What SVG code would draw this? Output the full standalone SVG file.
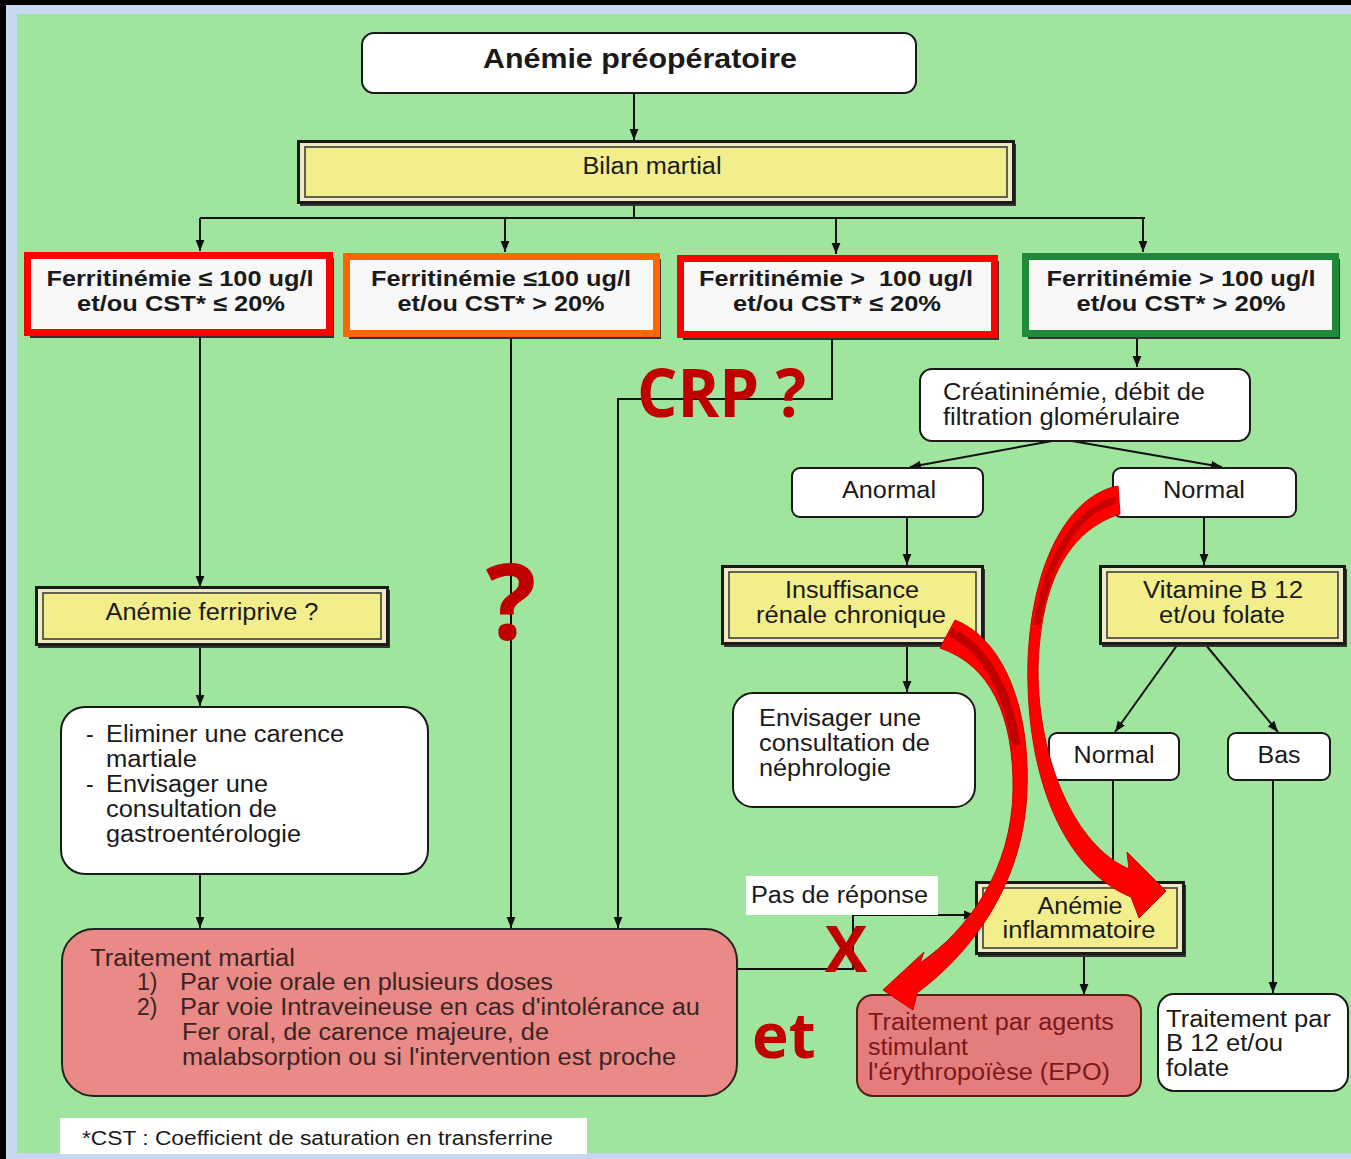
<svg xmlns="http://www.w3.org/2000/svg" width="1351" height="1159" viewBox="0 0 1351 1159">
<defs>
<style>
.t{font-family:"Liberation Sans",Arial,sans-serif;font-size:23px;fill:#1a1a1a}
.tb{font-family:"Liberation Sans",Arial,sans-serif;font-size:22px;font-weight:bold;fill:#1a1a1a}
.mid{text-anchor:middle}
.red{font-family:"Open Sans","Liberation Sans",sans-serif;font-weight:bold;fill:#c00000}
.wb{fill:#ffffff;stroke:#1a1a1a;stroke-width:2}
.fer{fill:#f8f8f8;stroke-width:7}
.sh{fill:#333333}
.yo{fill:#ecebc4;stroke:#1a1a1a;stroke-width:3}
.yi{fill:#f2ee8c;stroke:#333333;stroke-width:1.5}
.pink{fill:#e98a87;stroke:#222222;stroke-width:2}
.conn path{fill:none;stroke:#111111;stroke-width:2}
.ra{fill:#ff0000;stroke:#d00000;stroke-width:1}
.tm{fill:#3a2424}
.te{fill:#7a1818}
</style>
<marker id="ah" viewBox="0 0 10 10" refX="10" refY="5" markerWidth="11" markerHeight="11" markerUnits="userSpaceOnUse" orient="auto">
<path d="M0,1 L10,5 L0,9 z" fill="#111111"/>
</marker>
<linearGradient id="fg" x1="0" y1="0" x2="0" y2="1">
<stop offset="0" stop-color="#e6e6e6"/>
<stop offset="0.15" stop-color="#ffffff"/>
<stop offset="0.85" stop-color="#ffffff"/>
<stop offset="1" stop-color="#e0e0e0"/>
</linearGradient>
</defs>

<!-- frame and background -->
<rect x="0" y="0" width="1351" height="1159" fill="#000000"/>
<rect x="6" y="5" width="1345" height="1154" fill="#c6d9f1"/>
<rect x="17" y="14" width="1334" height="1139" fill="#9fe59d"/>

<!-- connectors -->
<g id="connectors" class="conn">
<path d="M634,93 V140" marker-end="url(#ah)"/>
<path d="M634,204 V218"/>
<path d="M200,218 H1145"/>
<path d="M200,218 V251" marker-end="url(#ah)"/>
<path d="M505,218 V252" marker-end="url(#ah)"/>
<path d="M836,218 V254" marker-end="url(#ah)"/>
<path d="M1143,218 V252" marker-end="url(#ah)"/>
<path d="M200,336 V587" marker-end="url(#ah)"/>
<path d="M200,645 V706" marker-end="url(#ah)"/>
<path d="M200,875 V928" marker-end="url(#ah)"/>
<path d="M511,337 V928" marker-end="url(#ah)"/>
<path d="M832,338 V399 H618 V928" marker-end="url(#ah)"/>
<path d="M1137,337 V367" marker-end="url(#ah)"/>
<path d="M1052,441 L910,467" marker-end="url(#ah)"/>
<path d="M1072,441 L1222,467" marker-end="url(#ah)"/>
<path d="M907,517 V565" marker-end="url(#ah)"/>
<path d="M1204,517 V565" marker-end="url(#ah)"/>
<path d="M907,644 V692" marker-end="url(#ah)"/>
<path d="M1178,644 L1115,732" marker-end="url(#ah)"/>
<path d="M1205,644 L1278,732" marker-end="url(#ah)"/>
<path d="M1113,780 V881"/>
<path d="M1273,780 V993" marker-end="url(#ah)"/>
<path d="M738,969 H853 V915 H975" marker-end="url(#ah)"/>
<path d="M1084,954 V995" marker-end="url(#ah)"/>
</g>

<!-- nodes -->
<g id="n-anemie-preop">
<rect x="362" y="33" width="554" height="60" rx="12" class="wb"/>
<text x="640" y="68" class="tb mid" style="font-size:27px" textLength="314" lengthAdjust="spacingAndGlyphs">Anémie préopératoire</text>
</g>

<g id="n-bilan">
<rect x="300" y="144" width="716" height="62" class="sh"/>
<rect x="298.5" y="141.5" width="715" height="61" class="yo"/>
<rect x="305" y="147" width="702" height="50" class="yi"/>
<text x="652" y="174" class="t mid" textLength="139" lengthAdjust="spacingAndGlyphs">Bilan martial</text>
</g>

<g id="n-fer1">
<rect x="30" y="258" width="304" height="80" class="sh"/>
<rect x="27.5" y="255.5" width="302" height="77" class="fer" stroke="#ff0000" fill="url(#fg)"/>
<text x="180" y="286" class="tb mid" textLength="267" lengthAdjust="spacingAndGlyphs">Ferritinémie ≤ 100 ug/l</text>
<text x="181" y="311" class="tb mid" textLength="208" lengthAdjust="spacingAndGlyphs">et/ou CST* ≤ 20%</text>
</g>

<g id="n-fer2">
<rect x="349" y="259" width="312" height="80" class="sh"/>
<rect x="346.5" y="256.5" width="310" height="77" class="fer" stroke="#ff6600" fill="url(#fg)"/>
<text x="501" y="286" class="tb mid" textLength="260" lengthAdjust="spacingAndGlyphs">Ferritinémie ≤100 ug/l</text>
<text x="501" y="311" class="tb mid" textLength="207" lengthAdjust="spacingAndGlyphs">et/ou CST* &gt; 20%</text>
</g>

<g id="n-fer3">
<rect x="683" y="261" width="316" height="79" class="sh"/>
<rect x="680.5" y="258.5" width="314" height="76" class="fer" stroke="#ff0000" fill="url(#fg)"/>
<text x="836" y="286" class="tb mid" xml:space="preserve" textLength="274" lengthAdjust="spacingAndGlyphs">Ferritinémie &gt;  100 ug/l</text>
<text x="837" y="311" class="tb mid" textLength="208" lengthAdjust="spacingAndGlyphs">et/ou CST* ≤ 20%</text>
</g>

<g id="n-fer4">
<rect x="1028" y="259" width="312" height="80" class="sh"/>
<rect x="1025.5" y="256.5" width="310" height="77" class="fer" stroke="#1e8a3a" fill="url(#fg)"/>
<text x="1181" y="286" class="tb mid" textLength="269" lengthAdjust="spacingAndGlyphs">Ferritinémie &gt; 100 ug/l</text>
<text x="1181" y="311" class="tb mid" textLength="209" lengthAdjust="spacingAndGlyphs">et/ou CST* &gt; 20%</text>
</g>

<g id="n-creat">
<rect x="920" y="369" width="330" height="72" rx="12" class="wb"/>
<text x="943" y="400" class="t" textLength="262" lengthAdjust="spacingAndGlyphs">Créatininémie, débit de</text>
<text x="943" y="425" class="t" textLength="237" lengthAdjust="spacingAndGlyphs">filtration glomérulaire</text>
</g>

<g id="n-anormal">
<rect x="792" y="468" width="191" height="49" rx="8" class="wb"/>
<text x="889" y="498" class="t mid" textLength="94" lengthAdjust="spacingAndGlyphs">Anormal</text>
</g>

<g id="n-normal1">
<rect x="1113" y="468" width="183" height="49" rx="8" class="wb"/>
<text x="1204" y="498" class="t mid" textLength="82" lengthAdjust="spacingAndGlyphs">Normal</text>
</g>

<g id="n-irc">
<rect x="724" y="569" width="261" height="78" class="sh"/>
<rect x="722.5" y="566.5" width="260" height="77" class="yo"/>
<rect x="729" y="572" width="247" height="66" class="yi"/>
<text x="852" y="598" class="t mid" textLength="134" lengthAdjust="spacingAndGlyphs">Insuffisance</text>
<text x="851" y="623" class="t mid" textLength="190" lengthAdjust="spacingAndGlyphs">rénale chronique</text>
</g>

<g id="n-vitb12">
<rect x="1102" y="569" width="245" height="78" class="sh"/>
<rect x="1100.5" y="566.5" width="244" height="77" class="yo"/>
<rect x="1107" y="572" width="231" height="66" class="yi"/>
<text x="1223" y="598" class="t mid" textLength="160" lengthAdjust="spacingAndGlyphs">Vitamine B 12</text>
<text x="1222" y="623" class="t mid" textLength="126" lengthAdjust="spacingAndGlyphs">et/ou folate</text>
</g>

<g id="n-nephro">
<rect x="733" y="693" width="242" height="114" rx="20" class="wb"/>
<text x="759" y="726" class="t" textLength="162" lengthAdjust="spacingAndGlyphs">Envisager une</text>
<text x="759" y="751" class="t" textLength="171" lengthAdjust="spacingAndGlyphs">consultation de</text>
<text x="759" y="776" class="t" textLength="132" lengthAdjust="spacingAndGlyphs">néphrologie</text>
</g>

<g id="n-normal2">
<rect x="1049" y="733" width="130" height="47" rx="8" class="wb"/>
<text x="1114" y="763" class="t mid" textLength="81" lengthAdjust="spacingAndGlyphs">Normal</text>
</g>

<g id="n-bas">
<rect x="1228" y="733" width="102" height="47" rx="8" class="wb"/>
<text x="1279" y="763" class="t mid" textLength="43" lengthAdjust="spacingAndGlyphs">Bas</text>
</g>

<g id="n-ferriprive">
<rect x="38" y="590" width="352" height="58" class="sh"/>
<rect x="36.5" y="587.5" width="351" height="57" class="yo"/>
<rect x="43" y="593" width="338" height="46" class="yi"/>
<text x="212" y="620" class="t mid" textLength="213" lengthAdjust="spacingAndGlyphs">Anémie ferriprive ?</text>
</g>

<g id="n-eliminer">
<rect x="61" y="707" width="367" height="167" rx="24" class="wb"/>
<text x="86" y="742" class="t">-</text>
<text x="106" y="742" class="t" textLength="238" lengthAdjust="spacingAndGlyphs">Eliminer une carence</text>
<text x="106" y="767" class="t" textLength="91" lengthAdjust="spacingAndGlyphs">martiale</text>
<text x="86" y="792" class="t">-</text>
<text x="106" y="792" class="t" textLength="162" lengthAdjust="spacingAndGlyphs">Envisager une</text>
<text x="106" y="817" class="t" textLength="171" lengthAdjust="spacingAndGlyphs">consultation de</text>
<text x="106" y="842" class="t" textLength="195" lengthAdjust="spacingAndGlyphs">gastroentérologie</text>
</g>

<g id="n-pas-reponse">
<rect x="746" y="876" width="192" height="39" fill="#ffffff"/>
<text x="751" y="903" class="t" textLength="177" lengthAdjust="spacingAndGlyphs">Pas de réponse</text>
</g>

<g id="n-inflam">
<rect x="978" y="885" width="208" height="72" class="sh"/>
<rect x="976.5" y="882.5" width="207" height="71" class="yo"/>
<rect x="983" y="888" width="194" height="60" class="yi"/>
<text x="1080" y="914" class="t mid" textLength="85" lengthAdjust="spacingAndGlyphs">Anémie</text>
<text x="1079" y="938" class="t mid" textLength="153" lengthAdjust="spacingAndGlyphs">inflammatoire</text>
</g>

<g id="n-trait-martial">
<rect x="62" y="929" width="675" height="167" rx="32" class="pink"/>
<text x="90" y="966" class="t tm" textLength="205" lengthAdjust="spacingAndGlyphs">Traitement martial</text>
<text x="137" y="990" class="t tm">1)</text>
<text x="180" y="990" class="t tm" textLength="373" lengthAdjust="spacingAndGlyphs">Par voie orale en plusieurs doses</text>
<text x="137" y="1015" class="t tm">2)</text>
<text x="180" y="1015" class="t tm" textLength="520" lengthAdjust="spacingAndGlyphs">Par voie Intraveineuse en cas d'intolérance au</text>
<text x="182" y="1040" class="t tm" textLength="367" lengthAdjust="spacingAndGlyphs">Fer oral, de carence majeure, de</text>
<text x="182" y="1065" class="t tm" textLength="494" lengthAdjust="spacingAndGlyphs">malabsorption ou si l'intervention est proche</text>
</g>

<g id="n-epo">
<rect x="857" y="995" width="284" height="101" rx="16" fill="#e57d7d" stroke="#5a1a1a" stroke-width="2"/>
<text x="868" y="1030" class="t te" textLength="246" lengthAdjust="spacingAndGlyphs">Traitement par agents</text>
<text x="868" y="1055" class="t te" textLength="100" lengthAdjust="spacingAndGlyphs">stimulant</text>
<text x="868" y="1080" class="t te" textLength="242" lengthAdjust="spacingAndGlyphs">l'érythropoïèse (EPO)</text>
</g>

<g id="n-trait-b12">
<rect x="1158" y="994" width="190" height="97" rx="16" class="wb"/>
<text x="1166" y="1027" class="t" textLength="165" lengthAdjust="spacingAndGlyphs">Traitement par</text>
<text x="1166" y="1051" class="t" textLength="117" lengthAdjust="spacingAndGlyphs">B 12 et/ou</text>
<text x="1166" y="1076" class="t" textLength="63" lengthAdjust="spacingAndGlyphs">folate</text>
</g>

<g id="n-footnote">
<rect x="60" y="1118" width="527" height="36" fill="#ffffff"/>
<text x="82" y="1145" class="t" style="font-size:20px" textLength="471" lengthAdjust="spacingAndGlyphs">*CST : Coefficient de saturation en transferrine</text>
</g>

<!-- red annotations -->
<g id="red-arrow-1">
<path class="ra" d="M955,620 C1005,640 1030,710 1027,790 C1024,880 975,950 917,993 L913,1010 L883,990 L924,952 L920,963 C968,930 1012,870 1013,790 C1014,715 990,665 940,648 Z"/>
<path d="M950,632 C985,648 1008,690 1016,745" fill="none" stroke="#c00000" stroke-width="9"/>
</g>
<g id="red-arrow-2">
<path class="ra" d="M1118,486 C1070,495 1032,560 1028,660 C1025,770 1060,868 1131,897 L1139,918 L1166,891 L1127,852 L1129,869 C1075,846 1038,760 1038,670 C1040,580 1070,530 1120,514 Z"/>
<path d="M1116,500 C1078,510 1048,555 1037,625" fill="none" stroke="#c80000" stroke-width="7"/>
</g>
<text x="637" y="417" class="red" style="font-size:66px" textLength="169" lengthAdjust="spacingAndGlyphs">CRP ?</text>
<text x="511" y="640" class="red mid" style="font-size:106px">?</text>
<text x="846" y="972" class="red mid" style="font-size:64px">X</text>
<text x="752" y="1058" class="red" style="font-size:62px">et</text>
</svg>
